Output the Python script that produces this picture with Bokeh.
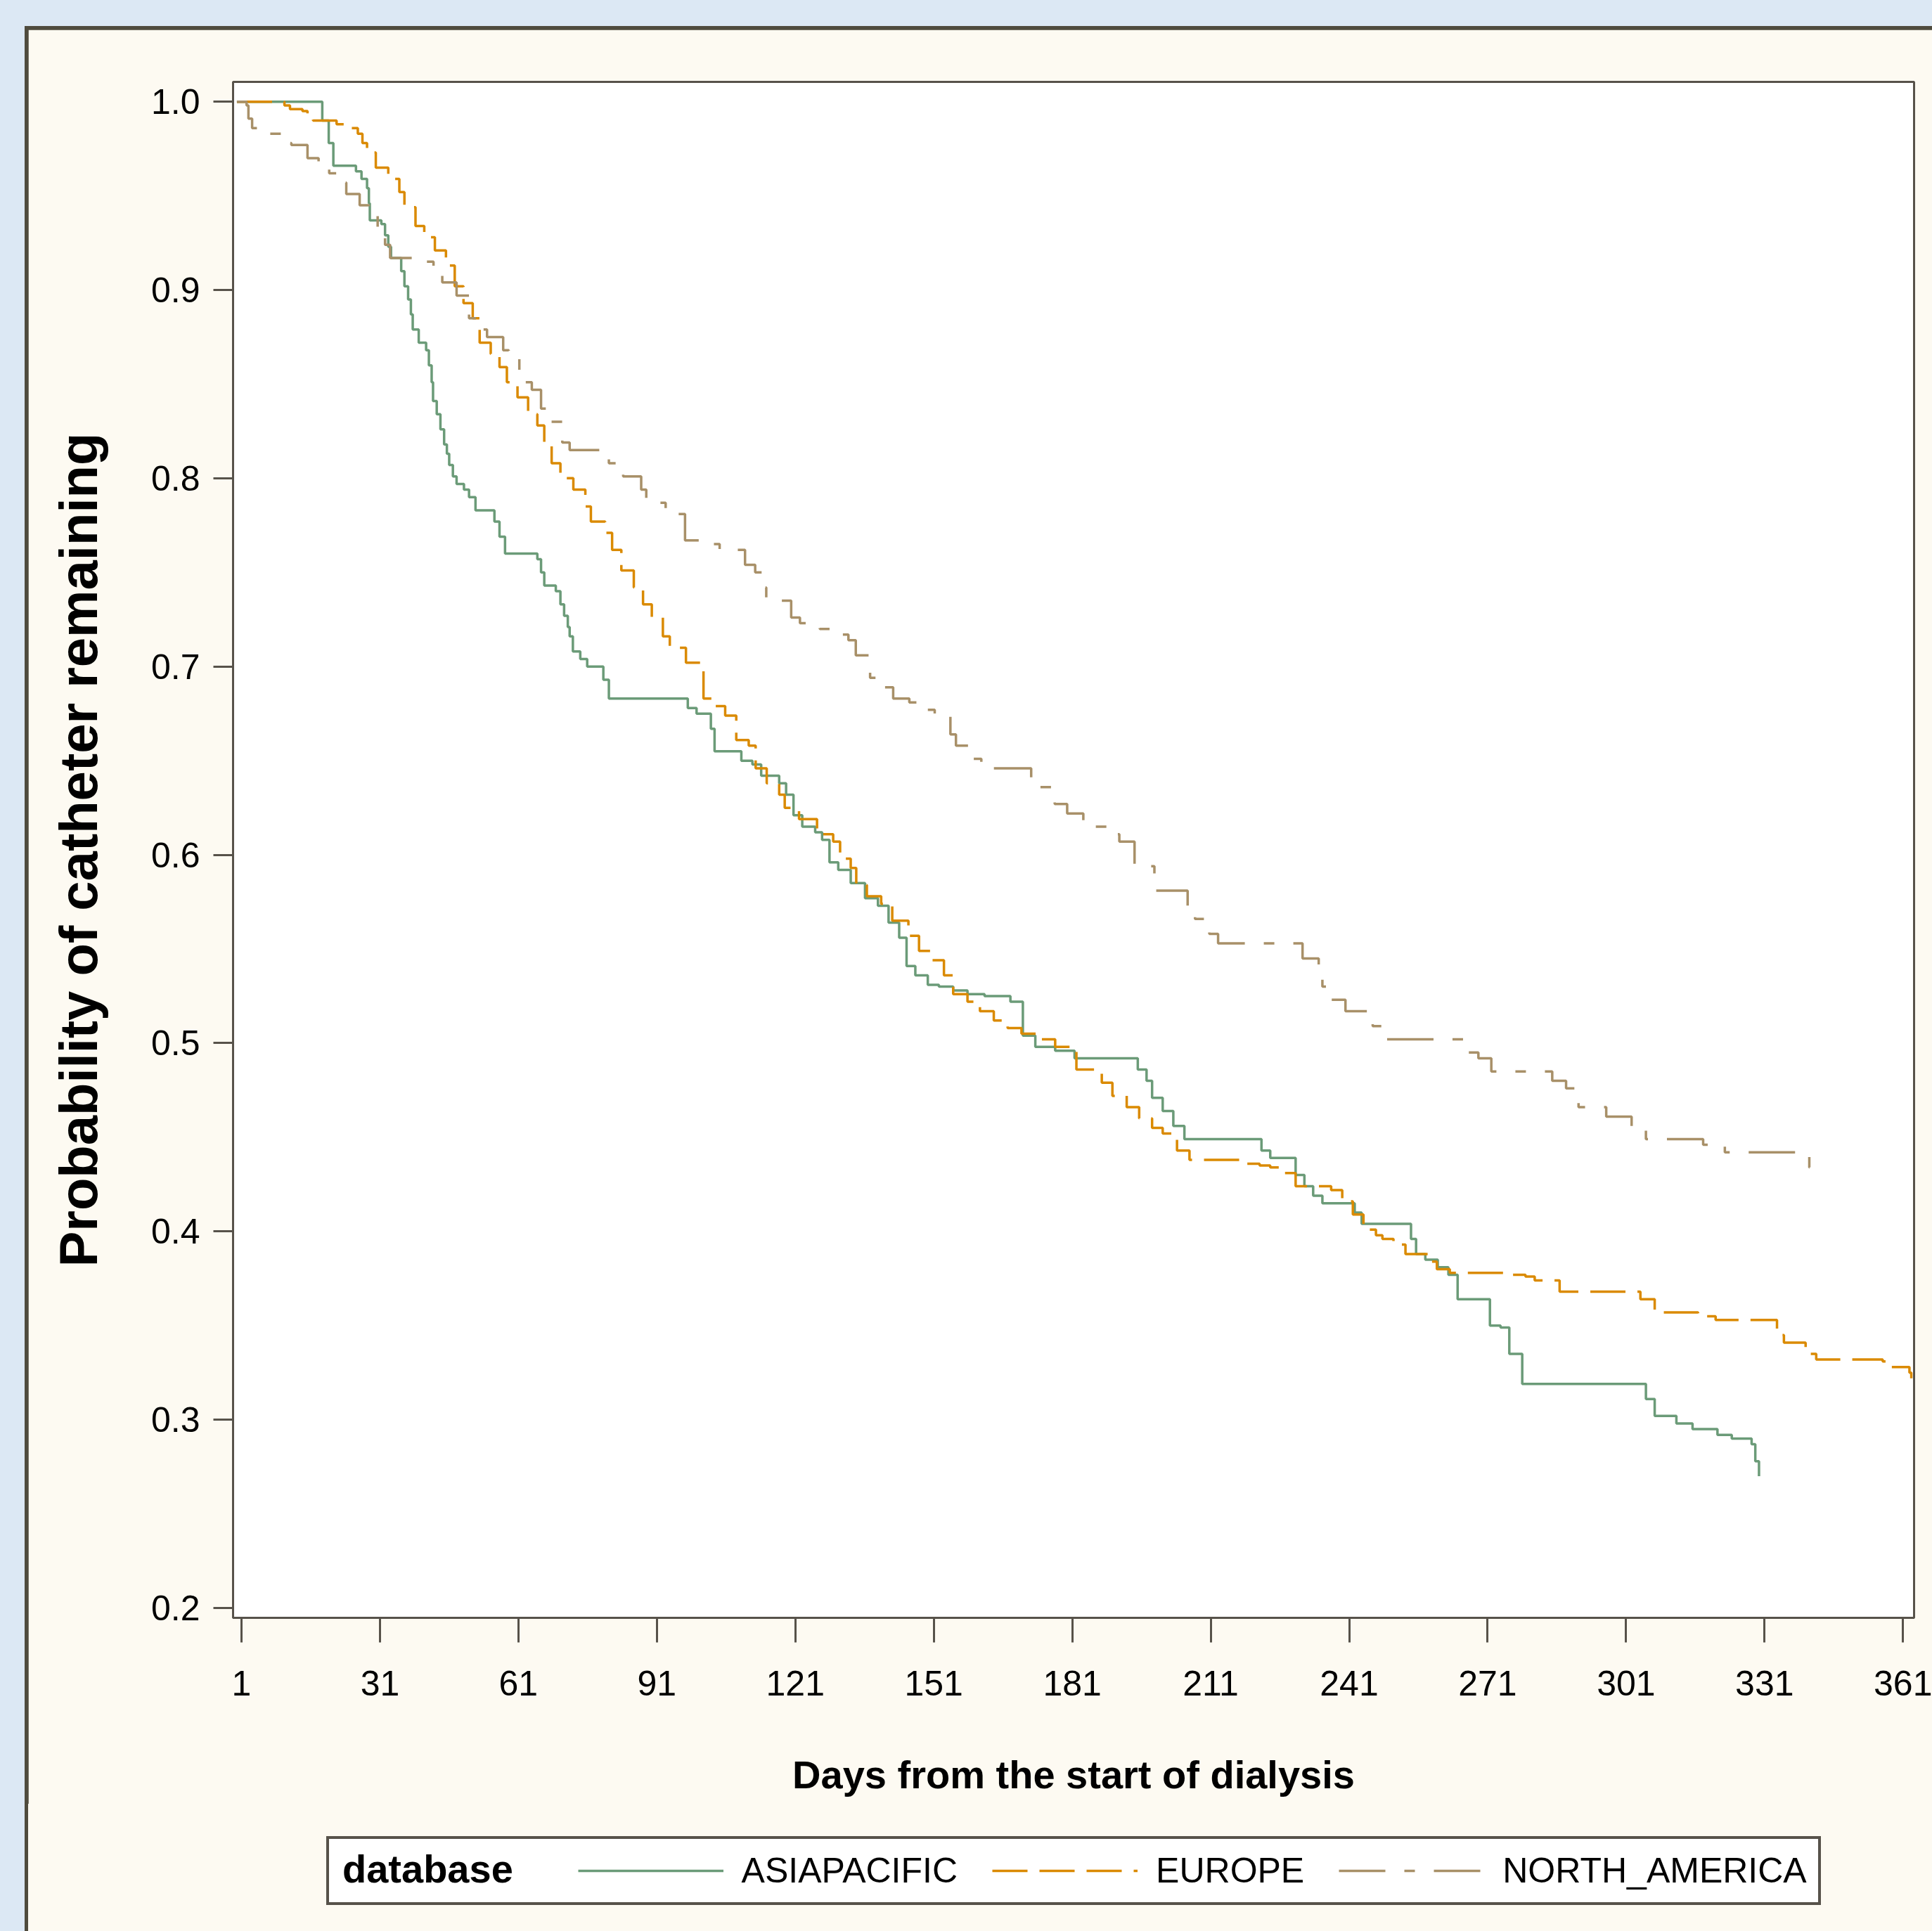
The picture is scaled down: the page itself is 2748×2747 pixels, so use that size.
from bokeh.plotting import figure
from bokeh.layouts import column
from bokeh.models import (Range1d, FixedTicker, Legend, LegendItem, NumeralTickFormatter)
from bokeh.embed import file_html
from bokeh.resources import INLINE

# ---------------- data ----------------
asia_days = [0, 18.5, 19.9, 20.9, 25.8, 27.0, 28.2, 28.6, 28.8, 31.3, 32.1, 32.8, 33.4, 35.6, 36.3,
             37.1, 37.7, 38.1, 39.4, 41.0, 41.6, 42.2, 42.5, 43.3, 44.1, 44.9, 45.5, 46.0, 46.8,
             47.6, 49.2, 50.3, 51.7, 55.8, 56.9, 58.1, 65.1, 65.9, 66.6, 69.1, 70.1, 70.9, 71.7,
             72.1, 72.8, 74.4, 75.9, 79.4, 80.6, 97.7, 99.6, 102.7, 103.5, 109.3, 111.7, 113.6,
             117.5, 119.0, 120.6, 122.5, 125.3, 126.8, 128.4, 130.3, 133.0, 136.1, 138.9, 141.2,
             143.5, 145.1, 147.0, 149.7, 152.1, 155.2, 158.3, 162.0, 167.6, 170.3, 173.0, 177.3,
             181.5, 195.2, 197.1, 198.3, 200.6, 202.9, 205.3, 222.0, 223.9, 229.4, 231.3, 233.2,
             235.2, 242.2, 243.7, 254.4, 255.5, 257.5, 260.2, 262.5, 264.5, 271.5, 273.8, 275.7,
             278.5, 305.3, 307.2, 311.9, 315.4, 320.8, 323.9, 328.2, 329.0, 329.8]
asia_surv = [1.000, 0.990, 0.978, 0.966, 0.963, 0.959, 0.954, 0.946, 0.937, 0.935, 0.929, 0.923,
             0.917, 0.910, 0.902, 0.895, 0.887, 0.879, 0.872, 0.868, 0.860, 0.851, 0.841, 0.834,
             0.826, 0.818, 0.813, 0.807, 0.801, 0.797, 0.794, 0.790, 0.783, 0.777, 0.769, 0.760,
             0.757, 0.750, 0.743, 0.740, 0.733, 0.727, 0.721, 0.716, 0.708, 0.704, 0.700, 0.693,
             0.683, 0.678, 0.675, 0.667, 0.655, 0.650, 0.648, 0.642, 0.638, 0.632, 0.621, 0.615,
             0.612, 0.608, 0.596, 0.592, 0.585, 0.577, 0.573, 0.564, 0.556, 0.541, 0.536, 0.531,
             0.530, 0.528, 0.526, 0.525, 0.522, 0.504, 0.498, 0.496, 0.492, 0.486, 0.480, 0.471,
             0.464, 0.456, 0.449, 0.443, 0.439, 0.430, 0.424, 0.419, 0.415, 0.410, 0.404, 0.396,
             0.388, 0.385, 0.381, 0.377, 0.364, 0.350, 0.349, 0.335, 0.319, 0.311, 0.302, 0.298,
             0.295, 0.292, 0.290, 0.287, 0.278, 0.270]

europe_days = [0, 10.3, 11.5, 14.2, 15.3, 16.5, 21.6, 23.9, 26.2, 27.2, 28.2, 30.1, 32.8, 35.2,
               36.3, 38.7, 40.6, 42.9, 45.3, 47.2, 49.1, 51.1, 52.6, 55.0, 56.9, 58.5, 60.8, 63.1,
               65.1, 66.6, 68.2, 70.1, 72.9, 75.5, 76.7, 79.8, 81.3, 83.3, 86.0, 88.0, 89.9, 92.3,
               93.8, 97.3, 101.1, 103.5, 105.8, 108.2, 110.9, 112.4, 114.8, 117.5, 118.7, 121.8,
               125.7, 129.2, 130.7, 133.0, 134.2, 136.5, 139.6, 142.0, 145.5, 147.8, 150.5, 153.2,
               155.2, 158.3, 161.0, 164.0, 167.0, 170.0, 173.5, 177.3, 181.9, 187.4, 189.7, 192.8,
               195.5, 198.3, 200.6, 203.7, 206.4, 217.3, 221.6, 223.9, 227.0, 229.4, 237.1, 239.5,
               241.8, 244.1, 246.8, 248.2, 250.6, 253.2, 258.1, 260.0, 262.8, 276.5, 279.2, 281.2,
               286.6, 304.1, 307.2, 316.6, 320.4, 333.7, 335.2, 339.9, 342.2, 356.6, 358.5, 362.4,
               362.8]
europe_surv = [1.000, 0.998, 0.996, 0.995, 0.992, 0.990, 0.988, 0.986, 0.983, 0.978, 0.973, 0.965,
               0.959, 0.952, 0.944, 0.934, 0.928, 0.921, 0.913, 0.902, 0.893, 0.885, 0.872, 0.866,
               0.859, 0.851, 0.843, 0.834, 0.828, 0.818, 0.808, 0.800, 0.794, 0.785, 0.777, 0.771,
               0.762, 0.751, 0.742, 0.733, 0.726, 0.716, 0.710, 0.702, 0.683, 0.679, 0.674, 0.661,
               0.658, 0.646, 0.638, 0.632, 0.625, 0.619, 0.611, 0.607, 0.598, 0.593, 0.584, 0.578,
               0.574, 0.565, 0.557, 0.549, 0.544, 0.536, 0.526, 0.522, 0.517, 0.512, 0.508, 0.505,
               0.502, 0.498, 0.486, 0.479, 0.472, 0.466, 0.460, 0.455, 0.452, 0.443, 0.438, 0.436,
               0.435, 0.434, 0.431, 0.424, 0.422, 0.416, 0.409, 0.401, 0.398, 0.396, 0.393, 0.388,
               0.384, 0.380, 0.378, 0.377, 0.376, 0.374, 0.368, 0.364, 0.357, 0.355, 0.353, 0.345,
               0.341, 0.335, 0.332, 0.331, 0.328, 0.325, 0.322]

namerica_days = [0, 2.1, 2.5, 3.3, 4.5, 6.8, 10.3, 11.8, 15.3, 17.7, 20.0, 22.3, 23.7, 26.6, 28.6,
                 30.5, 32.1, 33.2, 39.0, 42.6, 44.5, 47.6, 50.3, 52.3, 54.2, 57.7, 58.9, 61.2,
                 63.9, 65.9, 67.4, 70.5, 72.1, 79.1, 80.6, 83.7, 87.6, 88.7, 92.9, 97.1, 100.3,
                 104.6, 110.1, 112.3, 114.2, 114.7, 120.1, 122.0, 126.3, 130.2, 132.5, 134.1,
                 137.2, 138.7, 142.2, 145.7, 148.0, 151.2, 154.6, 155.8, 158.9, 161.3, 172.1,
                 177.2, 179.9, 183.4, 186.1, 190.4, 191.2, 194.5, 198.8, 206.0, 207.6, 210.7,
                 212.6, 230.9, 234.4, 235.2, 236.4, 240.2, 246.1, 248.4, 265.8, 266.4, 269.0,
                 271.8, 285.0, 288.0, 290.7, 296.7, 302.2, 305.3, 317.7, 322.4, 340.7, 341.4]
namerica_surv = [1.000, 0.998, 0.991, 0.986, 0.984, 0.983, 0.978, 0.977, 0.970, 0.965, 0.962,
                 0.957, 0.951, 0.945, 0.941, 0.931, 0.924, 0.917, 0.915, 0.909, 0.904, 0.897,
                 0.885, 0.879, 0.875, 0.868, 0.864, 0.851, 0.847, 0.837, 0.830, 0.819, 0.815,
                 0.814, 0.808, 0.801, 0.794, 0.787, 0.781, 0.767, 0.765, 0.762, 0.754, 0.750,
                 0.742, 0.735, 0.726, 0.723, 0.720, 0.717, 0.714, 0.706, 0.694, 0.689, 0.683,
                 0.681, 0.677, 0.674, 0.664, 0.658, 0.651, 0.646, 0.636, 0.627, 0.622, 0.618,
                 0.615, 0.611, 0.607, 0.594, 0.581, 0.570, 0.566, 0.558, 0.553, 0.545, 0.536,
                 0.530, 0.523, 0.517, 0.509, 0.502, 0.500, 0.495, 0.492, 0.485, 0.480, 0.476,
                 0.466, 0.461, 0.456, 0.449, 0.446, 0.442, 0.434, 0.427]

series_names = ["ASIAPACIFIC", "EUROPE", "NORTH_AMERICA"]
legend_title = "database"
x_ticks = [1, 31, 61, 91, 121, 151, 181, 211, 241, 271, 301, 331, 361]
y_ticks = [0.2, 0.3, 0.4, 0.5, 0.6, 0.7, 0.8, 0.9, 1.0]

# ---------------- styling ----------------
DARK = "#57524a"
FRAME = "#4f4b3d"
CREAM = "#fdfaf2"
FONT = "Liberation Sans"
colors = ["#6b9b78", "#da8a00", "#a89068"]
dashes = ["solid", "50 17", "66 27 15 27"]
LW = 3.5
series = [(asia_days, asia_surv), (europe_days, europe_surv), (namerica_days, namerica_surv)]

p = figure(width=2708, height=2524, output_backend="svg", toolbar_location=None,
           x_range=Range1d(-0.83, 363.4), y_range=Range1d(0.1948, 1.0105),
           min_border_left=291, min_border_right=26, min_border_top=74,
           min_border_bottom=265)
p.margin = (5, 0, 0, 5)
p.border_fill_color = CREAM
p.background_fill_color = "white"
p.outline_line_color = DARK
p.outline_line_width = 3
p.grid.visible = False

for ax in (p.xaxis[0], p.yaxis[0]):
    ax.axis_line_color = DARK
    ax.axis_line_width = 3
    ax.major_tick_line_color = DARK
    ax.major_tick_line_width = 3
    ax.major_tick_in = 0
    ax.minor_tick_line_color = None
    ax.major_label_text_font = FONT
    ax.major_label_text_font_size = "50px"
    ax.major_label_text_color = "black"
    ax.axis_label_text_color = "black"
    ax.axis_label_text_font = FONT
    ax.axis_label_text_font_style = "bold"

p.xaxis.ticker = FixedTicker(ticks=x_ticks)
p.yaxis.ticker = FixedTicker(ticks=y_ticks)
p.yaxis.formatter = NumeralTickFormatter(format="0.0")
p.xaxis.major_tick_out = 35
p.xaxis.major_label_standoff = 40
p.yaxis.major_tick_out = 28
p.yaxis.major_label_standoff = 19

p.xaxis.axis_label = "Days from the start of dialysis"
p.xaxis.axis_label_text_font_size = "56px"
p.xaxis.axis_label_standoff = 78
p.yaxis.axis_label = "Probability of catheter remaining"
p.yaxis.axis_label_text_font_size = "76px"
p.yaxis.axis_label_standoff = 58

for (xs, ys), c, d in zip(series, colors, dashes):
    p.step(xs, ys, mode="after", line_color=c, line_width=LW, line_dash=d)

# ---------------- legend strip (second figure below the plot) ----------------
# its ranges keep the (same) series out of view; they only feed the legend keys
p2 = figure(width=2708, height=181, output_backend="svg", toolbar_location=None,
            min_border=0, x_range=Range1d(0, 1), y_range=Range1d(10, 11))
p2.margin = (0, 0, 0, 5)
p2.styles = {"background-color": CREAM, "box-shadow": "-5px 0 0 0 " + FRAME}
p2.border_fill_color = None
p2.background_fill_color = None
p2.outline_line_color = None
p2.axis.visible = False
p2.grid.visible = False

blank = p2.step(asia_days, asia_surv, mode="after", line_alpha=0)
keys = [p2.step(xs, ys, mode="after", line_color=c, line_width=LW, line_dash=d)
        for (xs, ys), c, d in zip(series, colors, dashes)]

leg = Legend(items=[LegendItem(label="\u00a0\u00a0\u00a0\u00a0", renderers=[blank])] +
             [LegendItem(label=n, renderers=[r]) for n, r in zip(series_names, keys)],
             orientation="horizontal", location=(133, 37))
leg.label_text_font = FONT
leg.label_text_font_size = "50px"
leg.label_text_color = "black"
leg.glyph_width = 207
leg.glyph_height = 40
leg.label_standoff = 26
leg.spacing = 49
leg.padding = 16
leg.margin = 0
leg.border_line_color = DARK
leg.border_line_width = 4
leg.border_line_alpha = 1
leg.background_fill_color = "white"
leg.background_fill_alpha = 1
p2.add_layout(leg)

leg_t = Legend(items=[LegendItem(label=legend_title, renderers=[blank])],
               orientation="horizontal", location=(156, 56))
leg_t.label_text_font = FONT
leg_t.label_text_font_style = "bold"
leg_t.label_text_font_size = "56px"
leg_t.label_text_color = "black"
leg_t.glyph_width = 0
leg_t.label_standoff = 0
leg_t.padding = 0
leg_t.margin = 0
leg_t.border_line_color = None
leg_t.background_fill_alpha = 0
p2.add_layout(leg_t)

# dark panel frame (top/left) and light-blue page surround
inner = column(p, p2, spacing=0, styles={"background-color": FRAME})
inner.margin = (37, 0, 0, 35)
layout = column(inner, styles={"background-color": "#dce8f4"})

open("out.html", "w").write(file_html(layout, INLINE))
